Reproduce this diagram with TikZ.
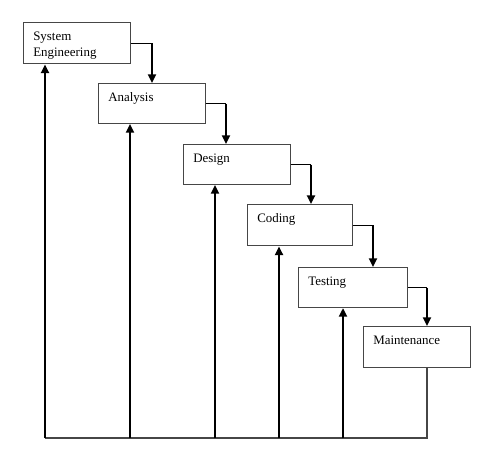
\documentclass[tikz,border=0pt]{standalone}
\usepackage{fontspec}
\setmainfont{Liberation Serif}
\usetikzlibrary{arrows.meta, positioning, calc}
\definecolor{boxline}{RGB}{70,70,70}

\begin{document}
\begin{tikzpicture}[x=0.75pt, y=-0.75pt,
		base/.style = {draw=boxline, line width=0.8pt, inner sep=0pt, anchor=north west},
		stage/.style = {rectangle, base},
		txt/.style = {anchor=north west, inner sep=0pt, align=left, font=\fontsize{9.7}{12}\selectfont, xshift=7.5pt, yshift=-7pt},
		link/.style = {line width=0.8pt},
		down/.style = {line width=1.5pt, -{Triangle[width=6pt,length=6.5pt]}},
		up/.style = {line width=1.4pt, -{Triangle[width=6pt,length=6.5pt]}}
		]
		\useasboundingbox (0,0) rectangle (485,474);
		\node (se) [stage, minimum width=80pt, minimum height=31pt, label={[txt]north west:System\\Engineering}] at (23,22) {};
		\node (an) [stage, minimum width=80pt, minimum height=30pt, label={[txt]north west:Analysis}] at (98,83) {};
		\node (de) [stage, minimum width=80pt, minimum height=30pt, label={[txt]north west:Design}] at (183,144) {};
		\node (co) [stage, minimum width=79pt, minimum height=31pt, label={[txt]north west:Coding}] at (247,204) {};
		\node (te) [stage, minimum width=82pt, minimum height=30pt, label={[txt]north west:Testing}] at (298,267) {};
		\node (ma) [stage, minimum width=80pt, minimum height=31pt, label={[txt]north west:Maintenance}] at (363,326) {};
		
		% corners of the down links
		\coordinate (k1) at ($(an.north west)+(54,0)$);
		\coordinate (k2) at ($(de.north west)+(43,0)$);
		\coordinate (k3) at ($(co.north west)+(64,0)$);
		\coordinate (k4) at ($(te.north west)+(75,0)$);
		\coordinate (k5) at ($(ma.north west)+(64,0)$);
		
		\draw[link] (se.east) -- (k1 |- se.east);
		\draw[down] (k1 |- se.east) -- (k1);
		\draw[link] (an.east) -- (k2 |- an.east);
		\draw[down] (k2 |- an.east) -- (k2);
		\draw[link] (de.east) -- (k3 |- de.east);
		\draw[down, line width=2.2pt] (k3 |- de.east) -- (k3);
		\draw[link] (co.east) -- (k4 |- co.east);
		\draw[down] (k4 |- co.east) -- (k4);
		\draw[link] (te.east) -- (k5 |- te.east);
		\draw[down] (k5 |- te.east) -- (k5);
		
		% feedback lines along the bottom
		\coordinate (b1) at (45,438);
		\coordinate (b2) at (130,438);
		\coordinate (b3) at (215,438);
		\coordinate (b4) at (279,438);
		\coordinate (b5) at (343,438);
		\coordinate (b6) at (427,438);
		
		\draw[boxline, line width=1pt] (b1) -- (b6) -- (b6 |- ma.south);
		\draw[up] (b1) -- (b1 |- se.south);
		\draw[up] (b2) -- (b2 |- an.south);
		\draw[up] (b3) -- (b3 |- de.south);
		\draw[up] (b4) -- (b4 |- co.south);
		\draw[up, line width=2pt] (b5) -- (b5 |- te.south);
	\end{tikzpicture}
\end{document}
